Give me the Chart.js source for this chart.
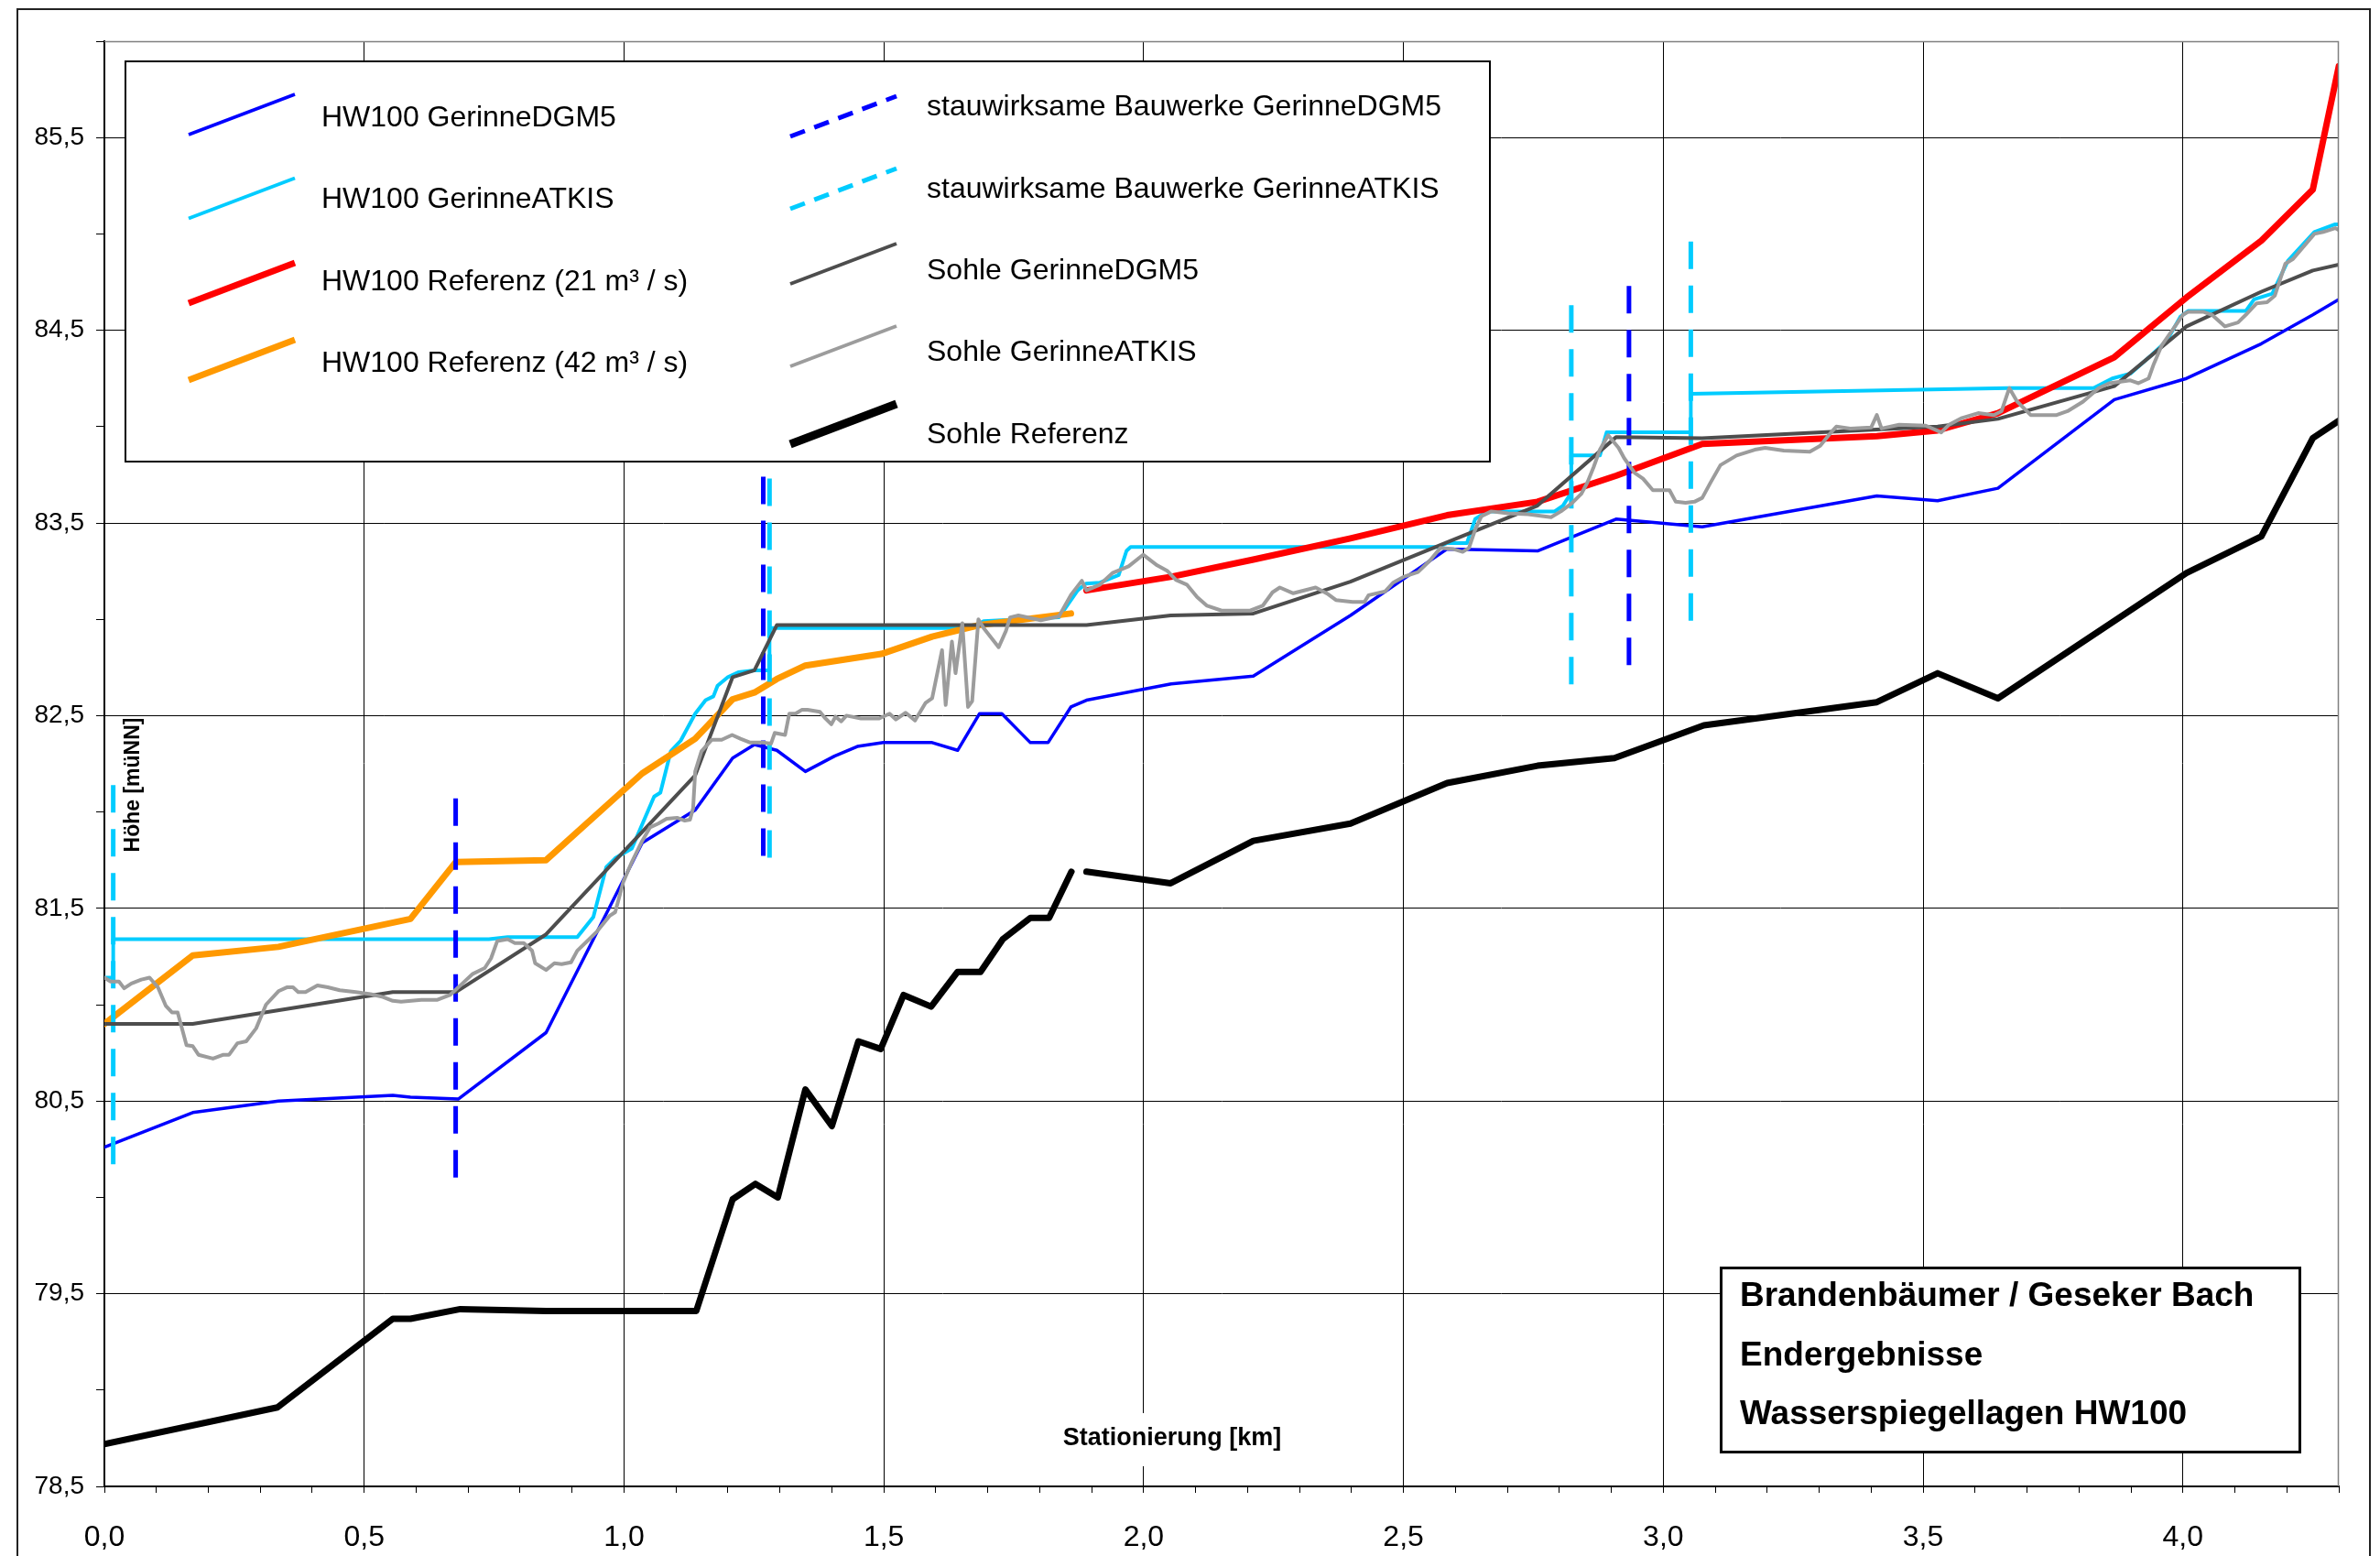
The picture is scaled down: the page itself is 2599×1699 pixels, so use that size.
<!DOCTYPE html>
<html><head><meta charset="utf-8">
<script src="https://cdn.jsdelivr.net/npm/chart.js@4.4.1/dist/chart.umd.min.js"></script>
<style>html,body{margin:0;padding:0;background:#fff;overflow:hidden}</style>
</head><body>
<canvas id="c" width="2599" height="1699" style="display:block;width:2599px;height:1699px"></canvas>
<script>
// ---------- DATA (Stationierung in km, Höhe in müNN) ----------
const xTickStep = 0.1;
const yTickStep = 0.5;

const hwDgmX = [0, 0.170, 0.335, 0.555, 0.589, 0.681, 0.850, 1.035, 1.137, 1.209, 1.251, 1.294, 1.349, 1.405, 1.449, 1.499, 1.593, 1.642, 1.684, 1.727, 1.782, 1.816, 1.860, 1.890, 2.053, 2.211, 2.398, 2.584, 2.758, 2.909, 3.075, 3.411, 3.528, 3.644, 3.868, 4.007, 4.151, 4.250, 4.30];
const hwDgmY = [80.26, 80.44, 80.50, 80.53, 80.52, 80.51, 80.855, 81.84, 82.01, 82.28, 82.35, 82.32, 82.21, 82.29, 82.34, 82.36, 82.36, 82.32, 82.51, 82.51, 82.36, 82.36, 82.545, 82.58, 82.665, 82.705, 83.02, 83.365, 83.355, 83.52, 83.48, 83.64, 83.615, 83.68, 84.14, 84.25, 84.43, 84.58, 84.66];

const hwAtkisX = [0, 0.017, 0.017, 0.740, 0.776, 0.910, 0.941, 0.966, 0.983, 1.015, 1.058, 1.070, 1.090, 1.109, 1.137, 1.157, 1.172, 1.180, 1.200, 1.220, 1.251, 1.280, 1.280, 1.670, 1.692, 1.837, 1.873, 1.889, 1.916, 1.952, 1.967, 1.975, 2.567, 2.583, 2.622, 2.638, 2.661, 2.791, 2.807, 2.820, 2.823, 2.823, 2.878, 2.891, 3.053, 3.053, 3.664, 3.828, 3.864, 3.899, 3.939, 3.969, 3.995, 4.010, 4.121, 4.137, 4.172, 4.202, 4.253, 4.293, 4.30];
const hwAtkisY = [81.14, 81.14, 81.34, 81.34, 81.35, 81.35, 81.455, 81.715, 81.76, 81.81, 82.08, 82.10, 82.315, 82.37, 82.51, 82.58, 82.60, 82.655, 82.70, 82.725, 82.735, 82.735, 82.955, 82.955, 82.99, 83.01, 83.15, 83.185, 83.19, 83.23, 83.355, 83.375, 83.375, 83.395, 83.395, 83.52, 83.56, 83.56, 83.59, 83.645, 83.645, 83.85, 83.85, 83.97, 83.97, 84.17, 84.20, 84.20, 84.25, 84.275, 84.37, 84.445, 84.57, 84.60, 84.60, 84.66, 84.69, 84.86, 85.01, 85.05, 85.05];

const ref21X = [1.890, 2.052, 2.211, 2.398, 2.584, 2.758, 2.909, 3.075, 3.411, 3.528, 3.644, 3.868, 4.007, 4.151, 4.250, 4.30];
const ref21Y = [83.15, 83.22, 83.31, 83.42, 83.54, 83.61, 83.745, 83.91, 83.95, 83.98, 84.07, 84.36, 84.67, 84.965, 85.23, 85.87];

const ref42X = [0, 0.170, 0.335, 0.589, 0.676, 0.850, 1.035, 1.137, 1.209, 1.251, 1.294, 1.349, 1.495, 1.593, 1.684, 1.860];
const ref42Y = [80.90, 81.255, 81.30, 81.445, 81.74, 81.75, 82.20, 82.38, 82.585, 82.62, 82.69, 82.76, 82.82, 82.91, 82.97, 83.03];

const bwDgmX = [0.676, 1.268, 2.934];
const bwDgmTop = [82.07, 83.74, 84.73];
const bwDgmBottom = [80.055, 81.74, 82.735];

const bwAtkisX = [0.017, 1.280, 2.823, 3.053];
const bwAtkisTop = [82.14, 83.73, 84.63, 84.96];
const bwAtkisBottom = [80.13, 81.735, 82.64, 82.96];

const sohleDgmX = [0, 0.170, 0.555, 0.676, 0.850, 1.137, 1.209, 1.251, 1.294, 1.890, 2.052, 2.211, 2.398, 2.584, 2.758, 2.909, 3.075, 3.411, 3.528, 3.644, 3.868, 4.007, 4.151, 4.250, 4.30];
const sohleDgmY = [80.90, 80.90, 81.065, 81.065, 81.365, 82.19, 82.70, 82.735, 82.97, 82.97, 83.02, 83.03, 83.195, 83.40, 83.59, 83.945, 83.94, 83.985, 84.00, 84.04, 84.21, 84.52, 84.70, 84.81, 84.84];

const sohleAtkisX = [0, 0.012, 0.028, 0.038, 0.052, 0.071, 0.087, 0.103, 0.118, 0.130, 0.141, 0.158, 0.170, 0.181, 0.209, 0.229, 0.240, 0.256, 0.273, 0.292, 0.311, 0.335, 0.351, 0.363, 0.373, 0.387, 0.410, 0.430, 0.453, 0.484, 0.512, 0.536, 0.555, 0.571, 0.610, 0.641, 0.665, 0.689, 0.709, 0.732, 0.744, 0.756, 0.776, 0.790, 0.807, 0.823, 0.829, 0.850, 0.866, 0.880, 0.898, 0.910, 0.933, 0.948, 0.972, 0.983, 0.999, 1.015, 1.035, 1.050, 1.066, 1.082, 1.102, 1.117, 1.127, 1.133, 1.137, 1.149, 1.169, 1.188, 1.208, 1.224, 1.243, 1.267, 1.283, 1.290, 1.310, 1.318, 1.330, 1.342, 1.353, 1.377, 1.386, 1.399, 1.407, 1.418, 1.428, 1.456, 1.491, 1.511, 1.523, 1.542, 1.560, 1.580, 1.593, 1.612, 1.619, 1.631, 1.638, 1.651, 1.662, 1.670, 1.682, 1.692, 1.721, 1.735, 1.743, 1.759, 1.802, 1.837, 1.861, 1.881, 1.890, 1.916, 1.940, 1.971, 1.999, 2.026, 2.046, 2.062, 2.083, 2.103, 2.122, 2.150, 2.205, 2.229, 2.248, 2.262, 2.288, 2.331, 2.355, 2.370, 2.402, 2.425, 2.433, 2.465, 2.480, 2.500, 2.528, 2.551, 2.571, 2.595, 2.614, 2.626, 2.638, 2.650, 2.669, 2.701, 2.740, 2.784, 2.803, 2.823, 2.842, 2.854, 2.866, 2.878, 2.894, 2.914, 2.925, 2.945, 2.961, 2.980, 3.012, 3.024, 3.043, 3.060, 3.075, 3.090, 3.110, 3.141, 3.176, 3.196, 3.232, 3.282, 3.302, 3.323, 3.333, 3.360, 3.400, 3.411, 3.420, 3.454, 3.505, 3.535, 3.550, 3.575, 3.606, 3.636, 3.651, 3.666, 3.681, 3.707, 3.757, 3.778, 3.808, 3.838, 3.858, 3.899, 3.914, 3.934, 3.944, 3.959, 4.000, 4.010, 4.040, 4.056, 4.081, 4.106, 4.121, 4.142, 4.162, 4.177, 4.197, 4.212, 4.253, 4.270, 4.293, 4.30];
const sohleAtkisY = [81.14, 81.12, 81.12, 81.085, 81.11, 81.13, 81.14, 81.09, 80.995, 80.96, 80.96, 80.79, 80.785, 80.74, 80.72, 80.74, 80.74, 80.80, 80.81, 80.877, 81.00, 81.07, 81.09, 81.09, 81.065, 81.065, 81.10, 81.09, 81.075, 81.065, 81.055, 81.04, 81.02, 81.015, 81.025, 81.025, 81.05, 81.11, 81.16, 81.19, 81.24, 81.33, 81.34, 81.32, 81.32, 81.28, 81.215, 81.18, 81.215, 81.21, 81.22, 81.28, 81.34, 81.38, 81.46, 81.48, 81.64, 81.74, 81.85, 81.92, 81.94, 81.965, 81.97, 81.955, 81.96, 82.02, 82.21, 82.315, 82.375, 82.375, 82.40, 82.38, 82.36, 82.36, 82.355, 82.41, 82.40, 82.51, 82.51, 82.53, 82.53, 82.52, 82.49, 82.455, 82.495, 82.47, 82.50, 82.485, 82.485, 82.51, 82.48, 82.515, 82.475, 82.565, 82.59, 82.84, 82.555, 82.885, 82.72, 82.98, 82.545, 82.575, 83.00, 82.955, 82.855, 82.94, 83.01, 83.02, 82.995, 83.015, 83.13, 83.20, 83.15, 83.18, 83.24, 83.275, 83.335, 83.28, 83.25, 83.205, 83.18, 83.115, 83.07, 83.045, 83.045, 83.07, 83.14, 83.165, 83.135, 83.165, 83.13, 83.10, 83.09, 83.09, 83.125, 83.145, 83.19, 83.22, 83.245, 83.305, 83.37, 83.365, 83.35, 83.37, 83.465, 83.535, 83.56, 83.55, 83.545, 83.53, 83.56, 83.60, 83.65, 83.71, 83.79, 83.88, 83.955, 83.89, 83.835, 83.76, 83.73, 83.67, 83.67, 83.61, 83.605, 83.61, 83.63, 83.705, 83.80, 83.85, 83.88, 83.89, 83.875, 83.87, 83.90, 83.97, 84.00, 83.99, 83.995, 84.06, 83.99, 84.01, 84.005, 83.97, 84.01, 84.045, 84.07, 84.06, 84.08, 84.20, 84.13, 84.06, 84.06, 84.08, 84.13, 84.20, 84.225, 84.24, 84.225, 84.25, 84.325, 84.42, 84.58, 84.595, 84.595, 84.58, 84.52, 84.54, 84.58, 84.64, 84.645, 84.68, 84.845, 84.87, 85.00, 85.01, 85.03, 85.02];

const sohleRefX = [0, 0.333, 0.555, 0.589, 0.685, 0.850, 1.139, 1.209, 1.253, 1.296, 1.349, 1.400, 1.451, 1.494, 1.538, 1.591, 1.642, 1.686, 1.729, 1.782, 1.818, 1.861, 1.875, 1.890, 2.052, 2.211, 2.398, 2.584, 2.758, 2.906, 3.078, 3.411, 3.528, 3.644, 4.007, 4.151, 4.250, 4.30];
const sohleRefY = [78.72, 78.91, 79.37, 79.37, 79.42, 79.41, 79.41, 79.99, 80.07, 80.00, 80.56, 80.37, 80.81, 80.77, 81.05, 80.99, 81.17, 81.17, 81.34, 81.45, 81.45, 81.69, null, 81.69, 81.63, 81.85, 81.94, 82.15, 82.24, 82.28, 82.45, 82.57, 82.72, 82.59, 83.24, 83.43, 83.94, 84.03];

const seriesNames = ["HW100 GerinneDGM5", "HW100 GerinneATKIS", "HW100 Referenz (21 m³ / s)", "HW100 Referenz (42 m³ / s)",
  "stauwirksame Bauwerke GerinneDGM5", "stauwirksame Bauwerke GerinneATKIS", "Sohle GerinneDGM5", "Sohle GerinneATKIS", "Sohle Referenz"];
const titleLines = ["Brandenbäumer / Geseker Bach", "Endergebnisse", "Wasserspiegellagen HW100"];
const xAxisTitle = "Stationierung [km]";
const yAxisTitle = "Höhe [müNN]";

// ---------- helpers ----------
const FONT = "'Liberation Sans', Arial, sans-serif";
const zip = (xs, ys) => xs.map((x, i) => ({x: x, y: ys[i]}));
const bars = (xs, tops, bots) => {
  const out = [];
  xs.forEach((x, i) => { out.push({x: x, y: tops[i]}, {x: x, y: bots[i]}, {x: x, y: null}); });
  return out;
};
const isMajorX = v => Math.abs(v / 0.5 - Math.round(v / 0.5)) < 1e-6;
const isMajorY = v => Math.abs((v - 78.5) - Math.round(v - 78.5)) < 1e-6;
const fmt = v => v.toFixed(1).replace('.', ',');

const styles = [
  {c: '#0000FF', w: 3.5},
  {c: '#00CCFF', w: 4},
  {c: '#FF0000', w: 7},
  {c: '#FF9900', w: 7},
  {c: '#0000FF', w: 5, dash: [30, 18]},
  {c: '#00CCFF', w: 5, dash: [30, 18]},
  {c: '#4D4D4D', w: 4},
  {c: '#9C9C9C', w: 4},
  {c: '#000000', w: 7}
];
const dataSets = [
  zip(hwDgmX, hwDgmY), zip(hwAtkisX, hwAtkisY), zip(ref21X, ref21Y), zip(ref42X, ref42Y),
  bars(bwDgmX, bwDgmTop, bwDgmBottom), bars(bwAtkisX, bwAtkisTop, bwAtkisBottom),
  zip(sohleDgmX, sohleDgmY), zip(sohleAtkisX, sohleAtkisY), zip(sohleRefX, sohleRefY)
];

const datasets = dataSets.map((d, i) => ({
  label: seriesNames[i],
  data: d,
  showLine: true,
  spanGaps: false,
  borderColor: styles[i].c,
  backgroundColor: styles[i].c,
  borderWidth: styles[i].w,
  borderDash: styles[i].dash || [],
  borderCapStyle: styles[i].dash ? 'butt' : 'round',
  borderJoinStyle: 'round',
  pointRadius: 0,
  pointHoverRadius: 0,
  tension: 0,
  fill: false,
  order: 20 - i
}));

// ---------- decorations ----------
const deco = {
  id: 'deco',
  beforeDraw(chart) {
    const ctx = chart.ctx;
    ctx.save();
    ctx.fillStyle = '#fff';
    ctx.fillRect(0, 0, chart.width, chart.height);
    ctx.restore();
  },
  afterDatasetsDraw(chart) {
    const ctx = chart.ctx;
    const a = chart.chartArea;
    ctx.save();
    // top & right plot border (grey)
    ctx.strokeStyle = '#808080';
    ctx.lineWidth = 1.5;
    ctx.beginPath();
    ctx.moveTo(a.left, a.top + 0.5); ctx.lineTo(a.right - 0.5, a.top + 0.5); ctx.lineTo(a.right - 0.5, a.bottom);
    ctx.stroke();

    // legend box
    ctx.fillStyle = '#fff';
    ctx.fillRect(136, 66, 1492, 438);
    ctx.strokeStyle = '#000';
    ctx.lineWidth = 2;
    ctx.strokeRect(137, 67, 1490, 437);
    const ds = chart.data.datasets;
    const leftRows = [[0, 129, 125], [1, 218, 216.5], [2, 308, 309], [3, 397, 393]];
    const rightRows = [[4, 117, 127], [5, 207, 206], [6, 296, 288], [7, 385, 378], [8, 475, 463]];
    const drawSym = (i, x0, yc) => {
      const d = ds[i];
      ctx.save();
      ctx.strokeStyle = d.borderColor;
      ctx.lineWidth = i === 8 ? 9 : d.borderWidth;
      ctx.setLineDash(d.borderDash && d.borderDash.length ? [17, 11] : []);
      ctx.lineCap = 'butt';
      ctx.beginPath();
      ctx.moveTo(x0, yc + 22);
      ctx.lineTo(x0 + 116, yc - 22);
      ctx.stroke();
      ctx.restore();
    };
    ctx.fillStyle = '#000';
    ctx.font = `32px ${FONT}`;
    ctx.textBaseline = 'middle';
    ctx.textAlign = 'left';
    leftRows.forEach(([i, ty, sy]) => { drawSym(i, 206, sy); ctx.fillText(ds[i].label, 351, ty); });
    rightRows.forEach(([i, ty, sy]) => { drawSym(i, 863, sy); ctx.fillText(ds[i].label, 1012, ty); });

    // title box
    ctx.fillStyle = '#fff';
    ctx.fillRect(1878, 1383, 635, 204);
    ctx.strokeStyle = '#000';
    ctx.lineWidth = 3;
    ctx.strokeRect(1879.5, 1384.5, 632, 201);
    ctx.fillStyle = '#000';
    ctx.font = `bold 37px ${FONT}`;
    [1416, 1481, 1545].forEach((y, k) => ctx.fillText(titleLines[k], 1900, y));

    // x axis title with white background
    ctx.font = `bold 27px ${FONT}`;
    ctx.textAlign = 'center';
    const tw = ctx.measureText(xAxisTitle).width;
    ctx.fillStyle = '#fff';
    ctx.fillRect(1280 - tw / 2 - 14, 1543, tw + 28, 58);
    ctx.fillStyle = '#000';
    ctx.fillText(xAxisTitle, 1280, 1571);

    // y axis title, rotated
    ctx.save();
    ctx.translate(146, 857);
    ctx.rotate(-Math.PI / 2);
    ctx.font = `bold 23px ${FONT}`;
    ctx.fillText(yAxisTitle, 0, 0);
    ctx.restore();
    ctx.restore();
  },
  afterDraw(chart) {
    const ctx = chart.ctx;
    ctx.save();
    ctx.strokeStyle = '#222';
    ctx.lineWidth = 2;
    ctx.strokeRect(19, 10, 2569, 1730);
    ctx.restore();
  }
};

new Chart(document.getElementById('c'), {
  type: 'scatter',
  data: {datasets: datasets},
  plugins: [deco],
  options: {
    responsive: false,
    devicePixelRatio: 1,
    animation: false,
    events: [],
    layout: {padding: {top: 45, right: 45, left: 0, bottom: 0}},
    plugins: {legend: {display: false}, tooltip: {enabled: false}, title: {display: false}},
    scales: {
      x: {
        type: 'linear', min: 0, max: 4.3,
        afterFit: s => { s.height = 76; },
        ticks: {
          stepSize: xTickStep, autoSkip: false, maxRotation: 0, minRotation: 0, padding: 30,
          color: '#000', font: {family: FONT, size: 32},
          callback: v => isMajorX(v) ? fmt(v) : ''
        },
        grid: {
          color: c => (c.tick && isMajorX(c.tick.value)) ? '#000' : 'rgba(0,0,0,0)',
          tickColor: '#000', tickLength: 7, lineWidth: 1
        },
        border: {color: '#000', width: 2}
      },
      y: {
        type: 'linear', min: 78.5, max: 86,
        afterFit: s => { s.width = 114; },
        ticks: {
          stepSize: yTickStep, autoSkip: false, padding: 13,
          color: '#000', font: {family: FONT, size: 28},
          callback: v => isMajorY(v) ? fmt(v) : ''
        },
        grid: {
          color: c => (c.tick && isMajorY(c.tick.value)) ? '#000' : 'rgba(0,0,0,0)',
          tickColor: '#000', tickLength: 9, lineWidth: 1
        },
        border: {color: '#000', width: 2}
      }
    }
  }
});
</script>
</body></html>
